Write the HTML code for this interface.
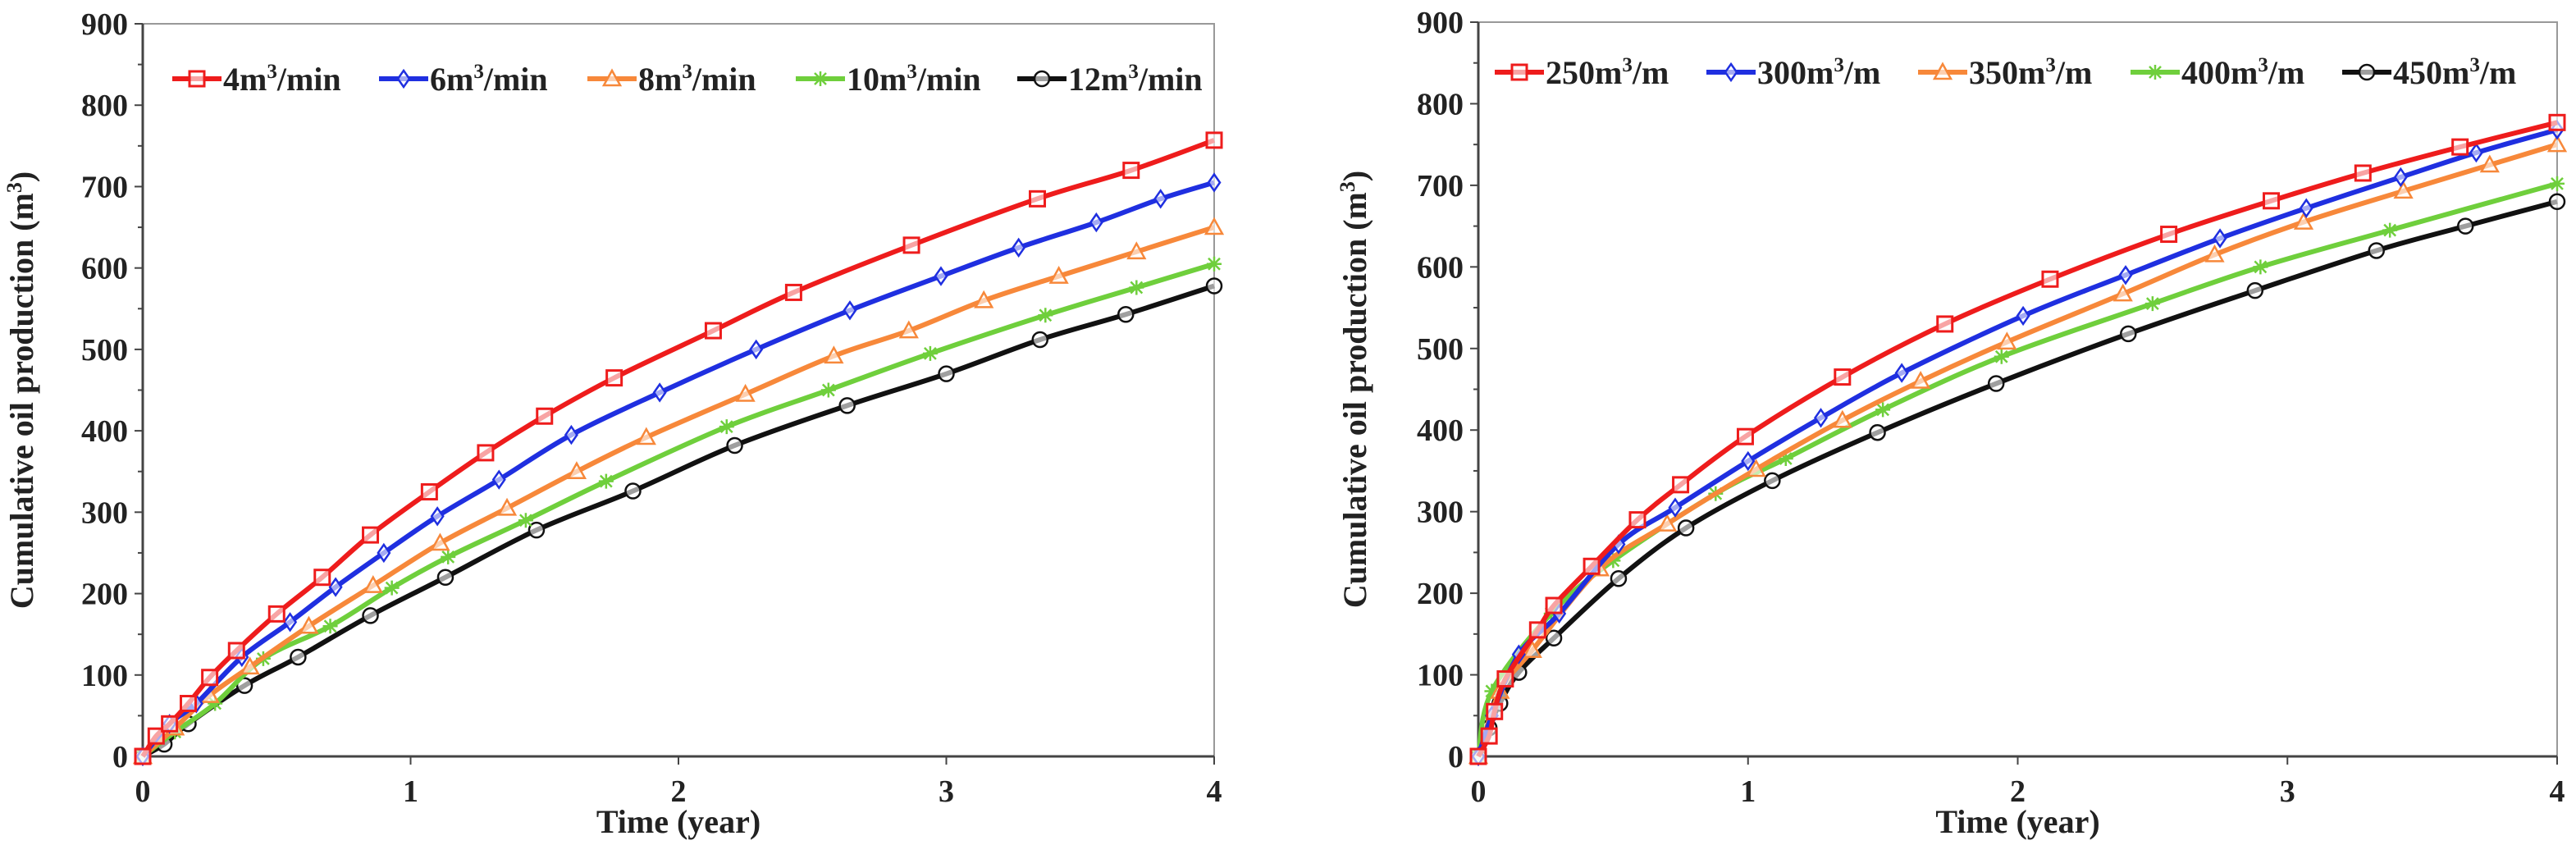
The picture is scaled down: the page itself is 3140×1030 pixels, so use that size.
<!DOCTYPE html>
<html><head><meta charset="utf-8"><style>
body{margin:0;background:#fff;}
svg text{font-family:"Liberation Serif",serif;font-weight:bold;fill:#222;}
</style></head><body>
<svg id="c" width="3140" height="1025" xmlns="http://www.w3.org/2000/svg"></svg>
<script>
const leftNames=["4m³/min","6m³/min","8m³/min","10m³/min","12m³/min"];
const rightNames=["250m³/m","300m³/m","350m³/m","400m³/m","450m³/m"];
const colors=["#ee1c1c","#1f2fe0","#f7883a","#6fcf3c","#111111"];
const markers=["square","diamond","triangle","star","circle"];
const xTicks=[0,1,2,3,4];
const yTicks=[0,100,200,300,400,500,600,700,800,900];
const L_red_t=[0,0.05,0.1,0.17,0.25,0.35,0.5,0.67,0.85,1.07,1.28,1.5,1.76,2.13,2.43,2.87,3.34,3.69,4];
const L_red_v=[0,25,40,65,97,130,175,220,272,325,373,418,465,523,570,628,685,720,757];
const L_blue_t=[0,0.1,0.2,0.37,0.55,0.72,0.9,1.1,1.33,1.6,1.93,2.29,2.64,2.98,3.27,3.56,3.8,4];
const L_blue_v=[0,40,65,122,165,208,250,295,340,395,447,500,548,590,625,656,685,705];
const L_orange_t=[0,0.12,0.25,0.4,0.62,0.86,1.11,1.36,1.62,1.88,2.25,2.58,2.86,3.14,3.42,3.71,4];
const L_orange_v=[0,35,75,110,160,210,262,305,350,392,445,492,523,560,590,620,650];
const L_green_t=[0,0.12,0.27,0.45,0.7,0.93,1.14,1.43,1.73,2.18,2.56,2.94,3.37,3.71,4];
const L_green_v=[0,30,65,120,160,207,245,290,338,405,450,495,542,576,605];
const L_black_t=[0,0.08,0.17,0.38,0.58,0.85,1.13,1.47,1.83,2.21,2.63,3.0,3.35,3.67,4];
const L_black_v=[0,15,40,87,122,173,220,278,326,382,431,470,512,543,578];
const R_red_t=[0,0.04,0.06,0.1,0.22,0.28,0.42,0.59,0.75,0.99,1.35,1.73,2.12,2.56,2.94,3.28,3.64,4];
const R_red_v=[0,25,55,95,155,185,233,290,333,392,465,530,585,640,681,715,747,777];
const R_blue_t=[0,0.05,0.15,0.3,0.52,0.73,1.0,1.27,1.57,2.02,2.4,2.75,3.07,3.42,3.7,4];
const R_blue_v=[0,50,125,175,260,305,362,415,470,540,590,635,672,710,740,768];
const R_orange_t=[0,0.08,0.2,0.45,0.7,1.03,1.35,1.64,1.96,2.39,2.73,3.06,3.43,3.75,4];
const R_orange_v=[0,80,130,230,285,352,412,460,508,567,615,655,693,725,750];
const R_green_t=[0,0.05,0.27,0.5,0.88,1.14,1.5,1.94,2.5,2.9,3.38,4];
const R_green_v=[0,80,175,240,322,365,425,490,555,600,645,702];
const R_black_t=[0,0.04,0.08,0.15,0.28,0.52,0.77,1.09,1.48,1.92,2.41,2.88,3.33,3.66,4];
const R_black_v=[0,35,65,103,145,218,280,338,397,457,518,571,620,650,680];
const leftT=[L_red_t,L_blue_t,L_orange_t,L_green_t,L_black_t];
const leftV=[L_red_v,L_blue_v,L_orange_v,L_green_v,L_black_v];
const rightT=[R_red_t,R_blue_t,R_orange_t,R_green_t,R_black_t];
const rightV=[R_red_v,R_blue_v,R_orange_v,R_green_v,R_black_v];

const svg=document.getElementById('c');
const NS="http://www.w3.org/2000/svg";
function el(tag,attrs,parent){const e=document.createElementNS(NS,tag);for(const k in attrs)e.setAttribute(k,attrs[k]);(parent||svg).appendChild(e);return e;}
function marker(g,type,x,y,c){
  const s=9;let m;
  if(type==="square")m=el('rect',{x:x-s,y:y-s,width:2*s,height:2*s,fill:'#fff','fill-opacity':0.6,stroke:c,'stroke-width':3},g);
  else if(type==="diamond")m=el('polygon',{points:`${x},${y-s-1} ${x+s-2},${y} ${x},${y+s+1} ${x-s+2},${y}`,fill:'#fff','fill-opacity':0.6,stroke:c,'stroke-width':2.5},g);
  else if(type==="triangle")m=el('polygon',{points:`${x},${y-s-1} ${x+s+1},${y+s-1} ${x-s-1},${y+s-1}`,fill:'#fff','fill-opacity':0.6,stroke:c,'stroke-width':2.5},g);
  else if(type==="circle")m=el('circle',{cx:x,cy:y,r:s,fill:'#fff','fill-opacity':0.6,stroke:c,'stroke-width':2.5},g);
  else{m=el('path',{d:`M${x-s},${y}H${x+s}M${x},${y-s}V${y+s}M${x-7},${y-7}L${x+7},${y+7}M${x+7},${y-7}L${x-7},${y+7}`,stroke:c,'stroke-width':2.5,fill:'none'},g);}
  
  
}
function spline(pts){
  let d=`M${pts[0][0]},${pts[0][1]}`;
  for(let i=0;i<pts.length-1;i++){
    const p0=pts[Math.max(0,i-1)],p1=pts[i],p2=pts[i+1],p3=pts[Math.min(pts.length-1,i+2)];
    const c1=[p1[0]+(p2[0]-p0[0])/6,p1[1]+(p2[1]-p0[1])/6];
    const c2=[p2[0]-(p3[0]-p1[0])/6,p2[1]-(p3[1]-p1[1])/6];
    d+=`C${c1[0]},${c1[1]} ${c2[0]},${c2[1]} ${p2[0]},${p2[1]}`;
  }
  return d;
}
function panel(id,x0,x1,y0,y1,names,T,V,legX,legY,titleX){
  const g=el('g',{});
  
  
  const sx=t=>x0+(x1-x0)*t/4, sy=v=>y0-(y0-y1)*v/900;
  el('path',{d:`M${x0},${y1}H${x1}V${y0}`,stroke:'#999',fill:'none','stroke-width':2},g);
  const ax=el('path',{d:`M${x0},${y1}V${y0}H${x1}`,stroke:'#444',fill:'none','stroke-width':3},g);
  
  
  for(let v=0;v<=900;v+=50){el('line',{x1:x0-(v%100?6:10),x2:x0,y1:sy(v),y2:sy(v),stroke:'#444','stroke-width':2},g);}
  yTicks.forEach(v=>{const t=el('text',{x:x0-18,y:sy(v)+13,'text-anchor':'end','font-size':38},g);t.textContent=v;
    
    });
  xTicks.forEach(v=>{el('line',{x1:sx(v),x2:sx(v),y1:y0,y2:y0+10,stroke:'#444','stroke-width':2},g);
    const t=el('text',{x:sx(v),y:y0+55,'text-anchor':'middle','font-size':38},g);t.textContent=v;
    
    });
  const xt=el('text',{x:(x0+x1)/2,y:1015,'text-anchor':'middle','font-size':40},g);xt.textContent="Time (year)";
  
  
  const yt=el('text',{x:0,y:0,'text-anchor':'middle','font-size':40,transform:`translate(${titleX},${(y0+y1)/2}) rotate(-90)`},g);
  yt.innerHTML='Cumulative oil production (m<tspan dy="-14" font-size="26">3</tspan><tspan dy="14">)</tspan>';
  
  
  for(let i=4;i>=0;i--){
    const pts=T[i].map((t,j)=>[sx(t),sy(V[i][j])]);
    const p=el('path',{d:spline(pts),stroke:colors[i],'stroke-width':6,fill:'none'},g);
    
    
    pts.forEach(q=>marker(g,markers[i],q[0],q[1],colors[i]));
  }
  names.forEach((n,i)=>{
    const lg=el('g',{},g);
    
    
    const lx=legX[i];
    el('line',{x1:lx,x2:lx+60,y1:legY,y2:legY,stroke:colors[i],'stroke-width':6},lg);
    marker(lg,markers[i],lx+30,legY,colors[i]);
    const t=el('text',{x:lx+62,y:legY+14,'font-size':40},lg);
    const parts=n.split('³');
    t.innerHTML=parts[0]+'<tspan dy="-15" font-size="25">3</tspan><tspan dy="15">'+parts[1]+'</tspan>';
  });
}
panel('left-panel',174,1480,922,29,leftNames,leftT,leftV,[210,462,716,970,1240],96,40);
panel('right-panel',1802,3117,922,27,rightNames,rightT,rightV,[1822,2080,2338,2597,2855],88,1665);
</script>
</body></html>
